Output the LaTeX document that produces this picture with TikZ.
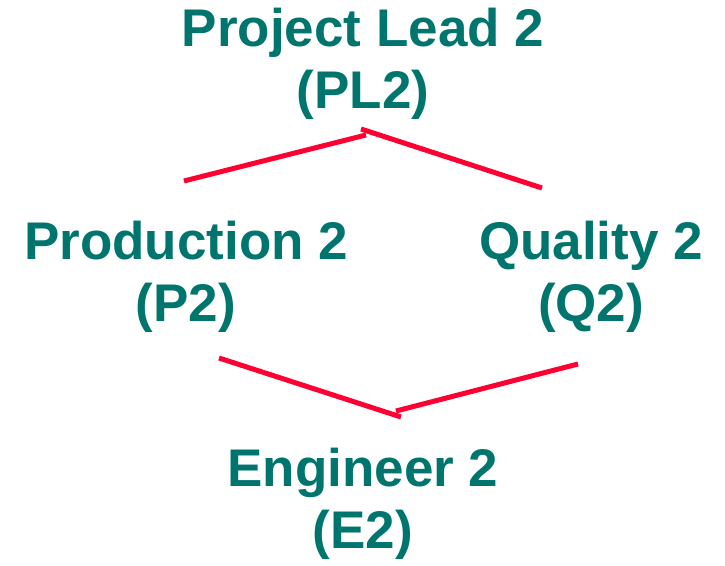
\documentclass[tikz,border=0pt]{standalone}
\usepackage{fontspec}
\setmainfont{Liberation Sans}
\definecolor{tealtext}{HTML}{00756E}
\definecolor{redline}{HTML}{FF0033}
\begin{document}
\begin{tikzpicture}[x=1pt,y=1pt,
  role/.style={inner sep=0pt, anchor=base, align=center, text=tealtext,
    font=\fontsize{53}{62}\selectfont\bfseries},
  link/.style={draw=redline, line width=5pt}]
\useasboundingbox (0,0) rectangle (725,565);
\node[role] (pl) at (363,456) {Project Lead 2\\(PL2)};
\node[role] (p) at (186,243) {Production 2\\(P2)};
\node[role] (q) at (591,243) {Quality 2\\(Q2)};
\node[role] (e) at (363,17) {Engineer 2\\(E2)};
\coordinate (a1) at (184,384);
\coordinate (a2) at (366,430);
\coordinate (b1) at (361,436);
\coordinate (b2) at (542,377);
\coordinate (c1) at (219,207);
\coordinate (c2) at (401,148);
\coordinate (d1) at (396,154);
\coordinate (d2) at (578,201);
\draw[link] (a1) -- (a2);
\draw[link] (b1) -- (b2);
\draw[link] (c1) -- (c2);
\draw[link] (d1) -- (d2);
\end{tikzpicture}
\end{document}
